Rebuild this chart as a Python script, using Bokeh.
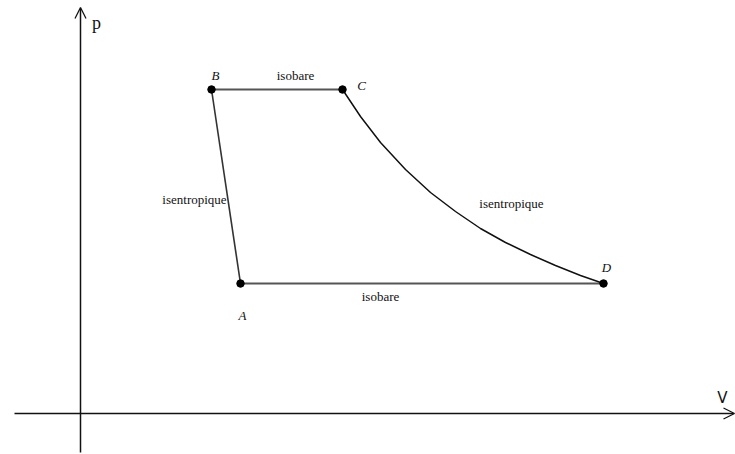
from bokeh.plotting import figure
from bokeh.models import Arrow, OpenHead, Range1d, Label
from bokeh.embed import file_html
from bokeh.resources import INLINE

# Cycle state points (V, p) in arbitrary units
state_names = ["A", "B", "C", "D"]
state_V = [1.60, 1.31, 2.62, 5.23]
state_p = [1.30, 3.24, 3.24, 1.30]

# Expansion C -> D along the isentrope
expansion_V = [2.62, 2.80, 3.00, 3.25, 3.50, 3.75, 4.00, 4.25, 4.50, 4.75, 5.00, 5.23]
expansion_p = [3.24, 2.97, 2.71, 2.44, 2.21, 2.02, 1.85, 1.71, 1.59, 1.48, 1.38, 1.30]

# Transformation labels
step_labels = ["isobare", "isobare", "isentropique", "isentropique"]
step_label_V = [2.15, 3.00, 1.14, 4.31]
step_label_p = [3.38, 1.17, 2.14, 2.10]

# Label offsets for the state points (pixels)
state_offsets = {"A": (2, -32), "B": (4, 14), "C": (19, 4), "D": (3, 16)}

W, H = 735, 454
p = figure(width=W, height=H, output_backend="svg", toolbar_location=None,
           x_range=Range1d(-0.80, 6.55), y_range=Range1d(-0.41, 4.13),
           min_border=0, min_border_left=0, min_border_right=0,
           min_border_top=0, min_border_bottom=0)
p.axis.visible = False
p.grid.visible = False
p.outline_line_color = None
p.background_fill_color = "white"
p.border_fill_color = "white"

ink = "#111111"

# Coordinate axes drawn as arrows
p.add_layout(Arrow(end=OpenHead(size=11, line_color=ink, line_width=1.3),
                   x_start=0, y_start=-0.39, x_end=0, y_end=4.06,
                   line_color=ink, line_width=1.5))
p.add_layout(Arrow(end=OpenHead(size=11, line_color=ink, line_width=1.3),
                   x_start=-0.66, y_start=0, x_end=6.54, y_end=0,
                   line_color=ink, line_width=1.5))

p.add_layout(Label(x=0, y=4.06, x_offset=16, y_offset=-15, text="p",
                   text_font="Liberation Serif", text_font_size="18px",
                   text_color=ink, text_align="center", text_baseline="middle"))
p.add_layout(Label(x=6.54, y=0, x_offset=-12, y_offset=16, text="V",
                   text_font="DejaVu Sans", text_font_size="15px",
                   text_color=ink, text_align="center", text_baseline="middle"))

iA, iB, iC, iD = 0, 1, 2, 3
# Isobare B -> C
p.line([state_V[iB], state_V[iC]], [state_p[iB], state_p[iC]],
       line_color="#555555", line_width=2)
# Isobare D -> A
p.line([state_V[iD], state_V[iA]], [state_p[iD], state_p[iA]],
       line_color="#555555", line_width=2)
# Compression A -> B
p.line([state_V[iA], state_V[iB]], [state_p[iA], state_p[iB]],
       line_color="#333333", line_width=1.6)
# Expansion C -> D
p.line(expansion_V, expansion_p, line_color=ink, line_width=1.5)

p.scatter(state_V, state_p, size=7.5, color="black")

for name, v, pr in zip(state_names, state_V, state_p):
    dx, dy = state_offsets[name]
    p.add_layout(Label(x=v, y=pr, x_offset=dx, y_offset=dy, text=name,
                       text_font="Liberation Serif", text_font_style="italic",
                       text_font_size="13px", text_color=ink,
                       text_align="center", text_baseline="middle"))

for txt, v, pr in zip(step_labels, step_label_V, step_label_p):
    p.add_layout(Label(x=v, y=pr, text=txt, text_font="Liberation Serif",
                       text_font_size="13px", text_color=ink,
                       text_align="center", text_baseline="middle"))

open("out.html", "w").write(file_html(p, INLINE))
